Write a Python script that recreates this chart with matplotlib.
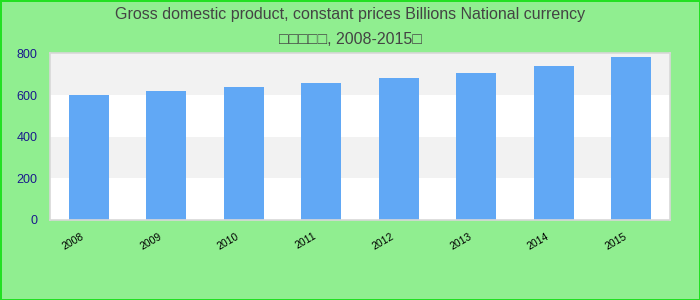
import matplotlib
matplotlib.use('Agg')
import matplotlib.pyplot as plt
from matplotlib.transforms import ScaledTranslation

plt.rcParams['font.family'] = ['Liberation Sans', 'DejaVu Sans']

# --- data ---
years = ['2008', '2009', '2010', '2011', '2012', '2013', '2014', '2015']
gdp = [603, 622, 637, 656, 680, 708, 742, 782]
y_ticks = [0, 200, 400, 600, 800]
title = 'Gross domestic product, constant prices Billions National currency\n\u25a1\u25a1\u25a1\u25a1\u25a1, 2008-2015\u25a1'

fig = plt.figure(figsize=(7, 3), dpi=100)
fig.patch.set_facecolor('#90ee90')
fig.patch.set_edgecolor('#22e022')
fig.patch.set_linewidth(2)

ax = fig.add_axes([50 / 700, 80 / 300, 620 / 700, 166.5 / 300])
ax.set_facecolor('white')

# alternating bands
for i in range(len(y_ticks) - 1):
    if i % 2 == 1:
        ax.axhspan(y_ticks[i], y_ticks[i + 1], color='#f2f2f2', zorder=0, lw=0)

x = range(len(years))
ax.bar(x, gdp, width=0.52, color='#61a8f5', zorder=2)

ax.set_xlim(-0.5, len(years) - 0.5)
ax.set_ylim(0, 800)
ax.set_yticks(y_ticks)
ax.set_yticklabels([str(t) for t in y_ticks], color='#1a1a8c', fontsize=9)
ax.set_xticks(list(x))
ax.set_xticklabels(years, rotation=30, fontsize=7.5, color='black', ha='right')
ax.tick_params(axis='both', length=0)
ax.tick_params(axis='y', pad=9)
ax.tick_params(axis='x', pad=8)
shift = ScaledTranslation(-3 / 100, 0, fig.dpi_scale_trans)
for lbl in ax.get_xticklabels():
    lbl.set_transform(lbl.get_transform() + shift)

for s in ax.spines.values():
    s.set_color('#d8d8d8')
    s.set_linewidth(1.2)

fig.text(0.5, 0.975, title, ha='center', va='top', fontsize=11.5,
         color='#444444', linespacing=1.75)

fig.savefig('out.png', dpi=100, facecolor=fig.get_facecolor(),
            edgecolor=fig.get_edgecolor())
